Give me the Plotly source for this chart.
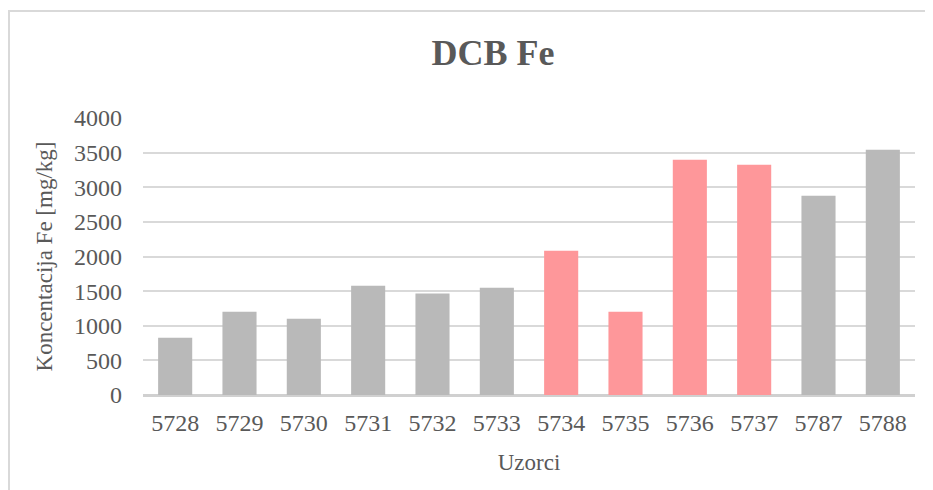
import plotly.graph_objects as go

samples = ["5728", "5729", "5730", "5731", "5732", "5733", "5734", "5735", "5736", "5737", "5787", "5788"]
fe_mg_kg = [827, 1203, 1102, 1578, 1467, 1549, 2084, 1203, 3398, 3326, 2878, 3542]
highlighted = ["5734", "5735", "5736", "5737"]

GRAY = "#b9b9b9"
PINK = "#fe979a"
colors = [PINK if s in highlighted else GRAY for s in samples]

font_family = "Liberation Serif, Times New Roman, serif"
text_color = "#595959"

fig = go.Figure(
    go.Bar(
        x=samples,
        y=fe_mg_kg,
        marker=dict(color=colors, line=dict(width=0)),
        hoverinfo="x+y",
    )
)

# page body has an 8px default margin, so the figure is drawn at (8, 8)
W, H = 925, 482
L, R, T, B = 135, 18, 110, 95
pw, ph = W - L - R, H - T - B

fig.update_layout(
    width=W,
    height=H,
    margin=dict(l=L, r=R, t=T, b=B, pad=0),
    paper_bgcolor="white",
    plot_bgcolor="white",
    bargap=0.47,
    showlegend=False,
    title=dict(
        text="<b>DCB Fe</b>",
        x=485 / W,
        xanchor="center",
        y=1 - 44 / H,
        yanchor="middle",
        font=dict(family=font_family, size=36, color=text_color),
    ),
    font=dict(family=font_family, color=text_color),
    shapes=[
        dict(
            type="rect",
            xref="paper",
            yref="paper",
            x0=(1 - L) / pw,
            x1=(W + 10 - L) / pw,
            y0=(H - B - (H + 10)) / ph,
            y1=(H - B - 3) / ph,
            line=dict(color="#d9d9d9", width=2),
            fillcolor="rgba(0,0,0,0)",
            layer="below",
        )
    ],
)

fig.update_xaxes(
    type="category",
    showgrid=False,
    showline=False,
    zeroline=False,
    ticks="",
    ticklabelstandoff=11,
    tickfont=dict(family=font_family, size=24, color=text_color),
    title=dict(
        text="Uzorci",
        font=dict(family=font_family, size=23, color=text_color),
        standoff=18,
    ),
)

fig.update_yaxes(
    range=[0, 4000],
    dtick=500,
    showgrid=True,
    gridcolor="#d9d9d9",
    gridwidth=2,
    zeroline=True,
    zerolinecolor="#d0d0d0",
    zerolinewidth=2.5,
    showline=False,
    ticks="",
    ticklabelstandoff=20,
    tickfont=dict(family=font_family, size=24, color=text_color),
    title=dict(
        text="Koncentacija Fe [mg/kg]",
        font=dict(family=font_family, size=23, color=text_color),
        standoff=14,
    ),
)

fig.write_html("out.html")
